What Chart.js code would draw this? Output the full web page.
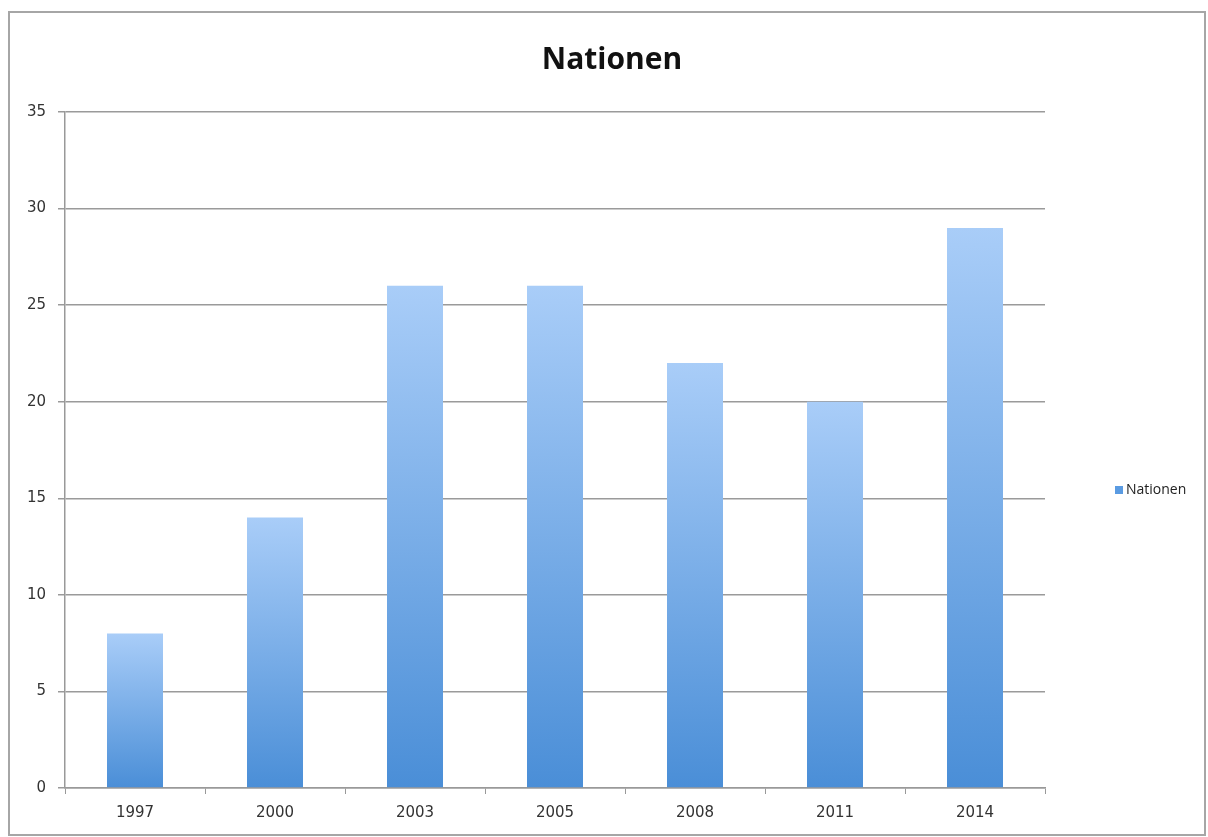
<!DOCTYPE html>
<html>
<head>
<meta charset="utf-8">
<script src="https://cdn.jsdelivr.net/npm/chart.js@4/dist/chart.umd.min.js"></script>
<style>
  html, body { margin: 0; padding: 0; background: #fff; }
  #wrap { width: 1208px; height: 837px; }
</style>
</head>
<body>
<div id="wrap"><canvas id="chart" width="1208" height="837"></canvas></div>
<script>
const years = ["1997", "2000", "2003", "2005", "2008", "2011", "2014"];
const nationen = [8, 14, 26, 26, 22, 20, 29];
const yTicks = [0, 5, 10, 15, 20, 25, 30, 35];
const seriesName = "Nationen";
const chartTitle = "Nationen";

const FONT = "'DejaVu Sans', 'Noto Sans', sans-serif";

// gradient per bar: light on top, darker at the base
function barGradient(context) {
  const chart = context.chart;
  const yScale = chart.scales.y;
  if (!chart.chartArea || !yScale || context.parsed === undefined) return "#79aeea";
  const top = yScale.getPixelForValue(context.parsed.y);
  const bottom = yScale.getPixelForValue(0);
  const g = chart.ctx.createLinearGradient(0, top, 0, bottom);
  g.addColorStop(0, "#a9cdf8");
  g.addColorStop(1, "#4a8ed7");
  return g;
}

// frame, title and legend drawn straight on the canvas
const extras = {
  id: "extras",
  beforeDraw(chart) {
    const c = chart.ctx;
    c.save();
    c.fillStyle = "#fff";
    c.fillRect(0, 0, chart.width, chart.height);
    c.strokeStyle = "#a6a6a6";
    c.lineWidth = 2;
    c.strokeRect(9, 12, 1196, 823);
    c.restore();
  },
  afterDraw(chart) {
    const c = chart.ctx;
    c.save();
    c.fillStyle = "#111";
    c.font = "bold 30px 'Open Sans', " + FONT;
    c.textAlign = "center";
    c.textBaseline = "middle";
    c.fillText(chartTitle, 612, 60);

    // legend
    const ds = chart.data.datasets[0];
    c.fillStyle = "#5a9be2";
    c.fillRect(1115, 486, 8, 8);
    c.fillStyle = "#222";
    c.font = "14px 'Open Sans', " + FONT;
    c.textAlign = "left";
    c.fillText(ds.label, 1126, 490);
    c.restore();
  }
};

new Chart(document.getElementById("chart"), {
  type: "bar",
  data: {
    labels: years,
    datasets: [{
      label: seriesName,
      data: nationen,
      backgroundColor: barGradient,
      borderWidth: 0,
      barPercentage: 0.4,
      categoryPercentage: 1.0
    }]
  },
  options: {
    responsive: false,
    animation: false,
    layout: { padding: { left: 10, right: 163, top: 112, bottom: 14 } },
    plugins: {
      legend: { display: false },
      title: { display: false },
      tooltip: { enabled: false }
    },
    scales: {
      x: {
        offset: true,
        grid: {
          display: true,
          offset: true,
          drawOnChartArea: false,
          drawTicks: true,
          tickLength: 6,
          color: "#999"
        },
        border: { color: "#999", width: 1.5 },
        ticks: {
          color: "#333",
          font: { family: FONT, size: 15 },
          padding: 10
        },
        afterFit(scale) { scale.height = 35; }
      },
      y: {
        min: 0,
        max: 35,
        afterBuildTicks(scale) { scale.ticks = yTicks.map(v => ({ value: v })); },
        grid: {
          color: "#9a9a9a",
          lineWidth: 1.5,
          tickLength: 7
        },
        border: { color: "#999", width: 1.5 },
        ticks: {
          color: "#333",
          font: { family: FONT, size: 15 },
          padding: 12
        },
        afterFit(scale) { scale.width = 55; }
      }
    }
  },
  plugins: [extras]
});
</script>
</body>
</html>
